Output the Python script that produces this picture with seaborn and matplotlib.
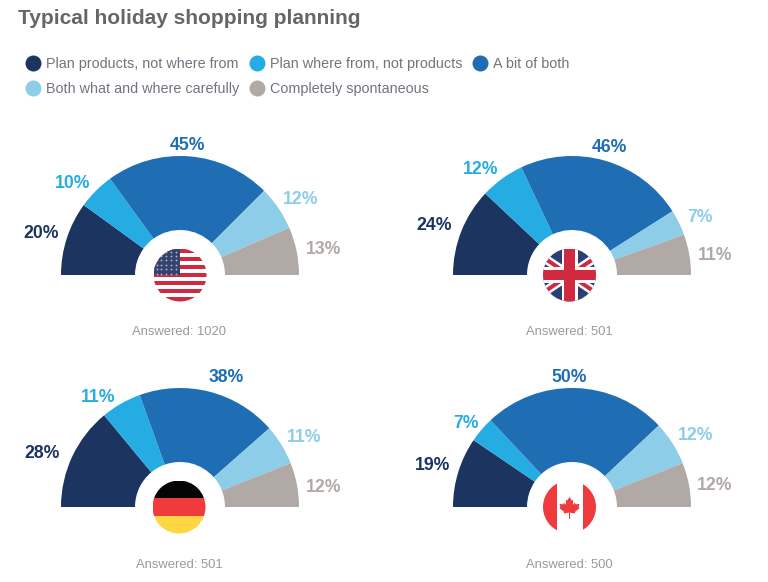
import numpy as np
import matplotlib
matplotlib.use("Agg")
import matplotlib.pyplot as plt
from matplotlib.lines import Line2D
from matplotlib.patches import Circle, Rectangle
import seaborn as sns

# Survey values, in percent
categories = [
    "Plan products, not where from",
    "Plan where from, not products",
    "A bit of both",
    "Both what and where carefully",
    "Completely spontaneous",
]
us_values = [20, 10, 45, 12, 13]
uk_values = [24, 12, 46, 7, 11]
de_values = [28, 11, 38, 11, 12]
ca_values = [19, 7, 50, 12, 12]
answered = [1020, 501, 501, 500]

colors = ["#1b3460", "#25ade3", "#1f6eb3", "#8dcde8", "#b0a9a6"]

# Layout in image pixels, y measured from the top
WIDTH, HEIGHT = 768, 582
OUTER_R, INNER_R, FLAG_R = 119, 45, 26.5
centers = [(180, 275), (572, 275), (180, 507), (572, 507)]
flag_centers = [(180, 275), (569.5, 275), (179, 507), (569.5, 507)]
answered_pos = [(179, 332), (569, 332), (179, 565), (569, 565)]
label_pos = [
    [(41, 233), (73, 183), (188, 145), (301, 199), (324, 249)],
    [(434, 225), (481, 170), (609, 148), (700, 217), (715, 255)],
    [(42, 453), (98, 398), (226, 377), (304, 438), (324, 487)],
    [(433, 466), (466, 423), (569, 377), (696, 436), (715, 486)],
]

sns.set_theme(style="white")
plt.rcParams["font.family"] = ["Liberation Sans", "DejaVu Sans"]
palette = sns.color_palette(colors)

fig = plt.figure(figsize=(WIDTH / 100, HEIGHT / 100), dpi=100, facecolor="white")
ax = fig.add_axes([0, 0, 1, 1])


def flip(y):
    return HEIGHT - y


def px(size):
    # pixel size to points
    return size * 0.72


def draw_gauge(values, center, positions):
    cx, cy = center
    wedges, _ = ax.pie(
        values + [sum(values)],
        colors=palette + ["white"],
        startangle=180,
        counterclock=False,
        center=(cx, flip(cy)),
        radius=OUTER_R,
        wedgeprops={"width": OUTER_R - INNER_R, "linewidth": 0},
    )
    wedges[-1].set_visible(False)
    for value, pos, color in zip(values, positions, colors):
        ax.text(pos[0], flip(pos[1]), f"{value}%", color=color, fontsize=px(17.6),
                fontweight="bold", ha="center", va="center")


def flag_clip(cx, cy):
    clip = Circle((cx, flip(cy)), FLAG_R, facecolor="white", edgecolor="none", zorder=3)
    ax.add_patch(clip)
    return clip


def add_rect(clip, x, y, w, h, color, zorder=4):
    # x, y is the top left corner in image pixels
    rect = Rectangle((x, flip(y + h)), w, h, facecolor=color, edgecolor="none", zorder=zorder)
    ax.add_patch(rect)
    rect.set_clip_path(clip)


def draw_us(cx, cy):
    clip = flag_clip(cx, cy)
    top = cy - FLAG_R
    stripe = 2 * FLAG_R / 13
    for i in range(13):
        add_rect(clip, cx - FLAG_R, top + i * stripe, 2 * FLAG_R, stripe,
                 "#cf2a40" if i % 2 == 0 else "white")
    add_rect(clip, cx - FLAG_R, top, FLAG_R, 6.6 * stripe, "#34426f", zorder=5)
    sx, sy = np.meshgrid(np.arange(cx - FLAG_R + 3, cx - 1, 4.8), np.arange(top + 3, cy, 4.4))
    stars = ax.scatter(sx.ravel(), flip(sy.ravel()), s=1.8, color="#aab2c8", linewidths=0, zorder=6)
    stars.set_clip_path(clip)


def draw_uk(cx, cy):
    clip = flag_clip(cx, cy)
    add_rect(clip, cx - FLAG_R, cy - FLAG_R, 2 * FLAG_R, 2 * FLAG_R, "#2a3f76")
    # the flag is wider than the circle, so the diagonals run shallower than 45 degrees
    for sign in (1, -1):
        xs = [cx - FLAG_R * 1.5, cx + FLAG_R * 1.5]
        ys = [flip(cy - sign * FLAG_R), flip(cy + sign * FLAG_R)]
        for color, lw, z in (("white", 9, 5), ("#cf2a40", 4, 6)):
            line, = ax.plot(xs, ys, color=color, lw=px(lw), zorder=z, solid_capstyle="butt")
            line.set_clip_path(clip)
    add_rect(clip, cx - 8, cy - FLAG_R, 16, 2 * FLAG_R, "white", zorder=7)
    add_rect(clip, cx - FLAG_R, cy - 8, 2 * FLAG_R, 16, "white", zorder=7)
    add_rect(clip, cx - 5.3, cy - FLAG_R, 10.6, 2 * FLAG_R, "#cf2a40", zorder=8)
    add_rect(clip, cx - FLAG_R, cy - 5.3, 2 * FLAG_R, 10.6, "#cf2a40", zorder=8)


def draw_de(cx, cy):
    clip = flag_clip(cx, cy)
    third = 2 * FLAG_R / 3
    top = cy - FLAG_R
    for i, color in enumerate(["#050505", "#ef3b3d", "#fdd642"]):
        add_rect(clip, cx - FLAG_R, top + i * third, 2 * FLAG_R, third, color)


def draw_ca(cx, cy):
    clip = flag_clip(cx, cy)
    add_rect(clip, cx - FLAG_R, cy - FLAG_R, 13.5, 2 * FLAG_R, "#ef3b3d")
    add_rect(clip, cx + 13, cy - FLAG_R, 13.5, 2 * FLAG_R, "#ef3b3d")
    # right half of the maple leaf, mirrored for the left half
    half_x = [0, 2.2, 3.6, 3.4, 5.4, 6.2, 10, 9.2, 10, 5.4, 5.8, 0.5, 0.5, 0]
    half_y = [-10, -6.5, -7.2, -2.2, -4.2, -2.6, -3.2, 0, 1.2, 5, 6.6, 5.6, 12, 12]
    xs = np.array(half_x + [-x for x in half_x[::-1]]) + cx
    ys = np.array(half_y + half_y[::-1]) + cy
    ax.fill(xs, flip(ys), color="#ef3b3d", linewidth=0, zorder=5)


for values, center, positions in zip([us_values, uk_values, de_values, ca_values], centers, label_pos):
    draw_gauge(values, center, positions)

for draw, pos in zip([draw_us, draw_uk, draw_de, draw_ca], flag_centers):
    draw(*pos)

for n, pos in zip(answered, answered_pos):
    ax.text(pos[0], flip(pos[1]), f"Answered: {n}", color="#9a9a9f", fontsize=px(13),
            ha="center", va="center")

ax.text(18, flip(18), "Typical holiday shopping planning", color="#666666", fontsize=px(20.9),
        fontweight="bold", ha="left", va="center")

# ncol=3 fills by column, so the order gives rows 1-2-3 / 4-5
order = [0, 3, 1, 4, 2]
handles = [Line2D([], [], linestyle="none", marker="o", markersize=px(16), color=colors[i],
                  markeredgewidth=0, label=categories[i]) for i in order]
ax.legend(handles=handles, ncol=3, frameon=False, loc="upper left",
          bbox_to_anchor=(26 / WIDTH, 1 - 57 / HEIGHT), bbox_transform=fig.transFigure,
          borderaxespad=0, borderpad=0, handlelength=1.0, handletextpad=0.38,
          columnspacing=0.74, labelspacing=0.76, labelcolor="#72757f",
          prop={"size": px(14.45)})

ax.set_xlim(0, WIDTH)
ax.set_ylim(0, HEIGHT)
ax.set_aspect("equal")
ax.axis("off")

fig.savefig("out.png", dpi=100, facecolor="white")
